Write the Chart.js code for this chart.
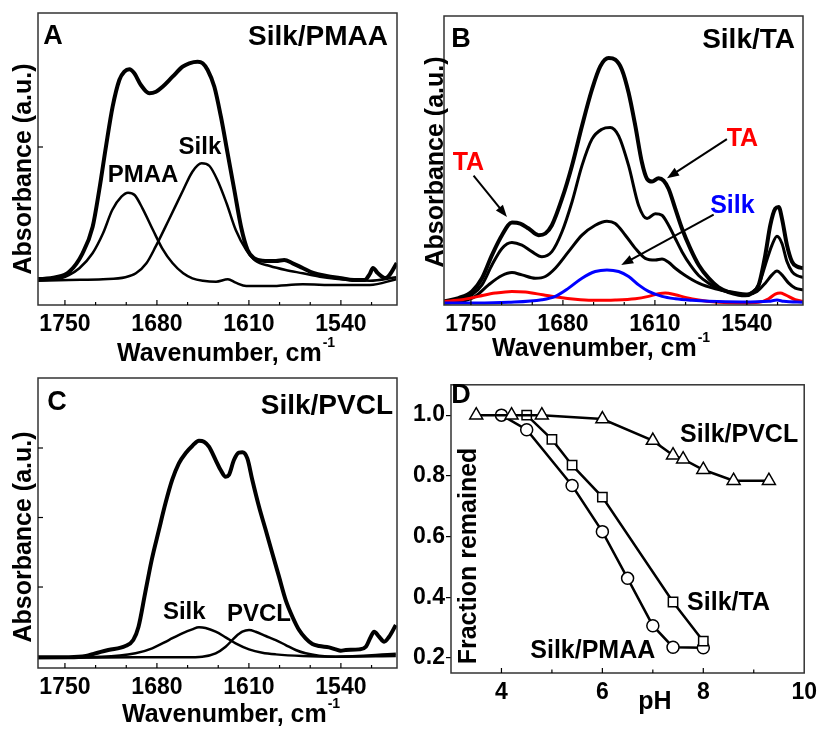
<!DOCTYPE html>
<html>
<head>
<meta charset="utf-8">
<script src="https://cdn.jsdelivr.net/npm/chart.js@4.4.1/dist/chart.umd.min.js"></script>
<style>
  body { margin: 0; background: #fff; }
  #fig { position: relative; width: 823px; height: 729px; overflow: hidden; }
  #fig canvas { position: absolute; }
</style>
</head>
<body>
<div id="fig">
  <canvas id="chartA" width="412" height="370" style="left:0;top:0"></canvas>
  <canvas id="chartB" width="411" height="370" style="left:412px;top:0"></canvas>
  <canvas id="chartC" width="412" height="359" style="left:0;top:370px"></canvas>
  <canvas id="chartD" width="411" height="359" style="left:412px;top:370px"></canvas>
</div>
<script>
// ---------- data ----------

// A : Silk/PMAA
const wnA_total = [1772.1, 1756.8, 1746.7, 1736.6, 1728.9, 1723.9, 1718.8, 1713.7, 1708.6, 1704.8, 1701.0, 1697.2, 1692.2, 1685.8, 1680.7, 1675.7, 1668.1, 1660.4, 1655.4, 1649.0, 1645.2, 1641.4, 1636.3, 1631.3, 1626.2, 1621.1, 1616.0, 1611.0, 1605.9, 1599.6, 1589.4, 1583.1, 1576.7, 1569.1, 1561.0, 1551.0, 1541.0, 1530.0, 1522.0, 1518.0, 1515.6, 1512.0, 1506.0, 1503.0, 1497.5];
const absA_total = [0.007, 0.027, 0.083, 0.267, 0.533, 0.9, 1.333, 1.733, 2.0, 2.083, 2.107, 2.067, 1.95, 1.867, 1.883, 1.933, 2.033, 2.133, 2.167, 2.183, 2.167, 2.1, 1.933, 1.633, 1.267, 0.9, 0.533, 0.3, 0.217, 0.193, 0.19, 0.2, 0.167, 0.12, 0.07, 0.04, 0.02, 0.0, 0.0, 0.06, 0.12, 0.07, 0.02, 0.05, 0.17];
const wnA_pmaa = [1770.5, 1757, 1747, 1739, 1729, 1721, 1714, 1707, 1702, 1697, 1691, 1683, 1676, 1668, 1660, 1653, 1645, 1635, 1626, 1620, 1612, 1594, 1569, 1544, 1518, 1498];
const absA_pmaa = [0, 0.007, 0.05, 0.117, 0.267, 0.467, 0.7, 0.833, 0.873, 0.85, 0.717, 0.5, 0.317, 0.167, 0.067, 0.017, -0.007, -0.017, 0.007, -0.027, -0.06, -0.06, -0.043, -0.05, -0.05, 0.007];
const wnA_silk = [1770.5, 1747, 1721, 1704, 1696, 1688, 1681, 1671, 1660, 1653, 1646, 1640, 1634, 1627, 1620, 1612, 1605, 1594, 1582, 1569, 1556, 1544, 1531, 1518, 1498];
const absA_silk = [-0.007, 0, 0.007, 0.027, 0.067, 0.167, 0.333, 0.6, 0.9, 1.083, 1.167, 1.14, 1.0, 0.767, 0.5, 0.3, 0.193, 0.14, 0.1, 0.067, 0.033, 0.013, 0, -0.007, 0.027];

// B : Silk/TA
const wnB_1 = [1770.5, 1759.4, 1749.2, 1741.6, 1734.0, 1726.4, 1718.8, 1712.5, 1706.1, 1698.5, 1693.4, 1688.4, 1680.7, 1673.1, 1665.5, 1657.9, 1651.6, 1645.2, 1640.2, 1635.1, 1630.0, 1624.9, 1619.9, 1616.0, 1612.2, 1607.2, 1603.4, 1599.6, 1594.5, 1589.4, 1583.1, 1576.7, 1569.1, 1561.5, 1553.9, 1546.3, 1541.2, 1536.1, 1531.0, 1526.0, 1522.2, 1518.4, 1515.8, 1513.3, 1509.5, 1505.7, 1501.9, 1496.8];
const absB_1 = [0.017, 0.05, 0.117, 0.25, 0.483, 0.683, 0.81, 0.8, 0.75, 0.683, 0.7, 0.783, 1.05, 1.383, 1.783, 2.15, 2.383, 2.467, 2.45, 2.35, 2.117, 1.783, 1.417, 1.25, 1.223, 1.257, 1.233, 1.15, 0.95, 0.75, 0.55, 0.383, 0.25, 0.157, 0.11, 0.083, 0.077, 0.1, 0.183, 0.483, 0.783, 0.95, 0.967, 0.85, 0.583, 0.417, 0.367, 0.35];
const wnB_2 = [1770.5, 1759.4, 1749.2, 1741.6, 1734.0, 1726.4, 1718.8, 1711.2, 1703.6, 1696.0, 1688.4, 1680.7, 1673.1, 1665.5, 1657.9, 1650.3, 1644.0, 1637.6, 1630.0, 1622.4, 1616.0, 1609.7, 1604.6, 1599.6, 1594.5, 1589.4, 1583.1, 1576.7, 1569.1, 1561.5, 1553.9, 1546.3, 1541.2, 1536.1, 1531.0, 1526.0, 1520.9, 1517.1, 1513.3, 1509.5, 1505.7, 1501.9, 1496.8];
const absB_2 = [0.01, 0.033, 0.083, 0.183, 0.383, 0.55, 0.61, 0.583, 0.517, 0.467, 0.517, 0.717, 1.017, 1.383, 1.65, 1.75, 1.767, 1.683, 1.383, 0.983, 0.85, 0.9, 0.883, 0.783, 0.65, 0.517, 0.383, 0.277, 0.2, 0.143, 0.11, 0.09, 0.083, 0.11, 0.183, 0.383, 0.583, 0.673, 0.6, 0.417, 0.317, 0.277, 0.257];
const wnB_3 = [1770.5, 1756.8, 1746.7, 1736.6, 1726.4, 1718.8, 1711.2, 1701.0, 1693.4, 1685.8, 1675.7, 1665.5, 1655.4, 1646.5, 1640.2, 1632.5, 1624.9, 1617.3, 1609.7, 1604.6, 1599.6, 1594.5, 1586.9, 1576.7, 1564.0, 1551.4, 1538.7, 1532.3, 1526.0, 1520.9, 1517.1, 1513.3, 1508.2, 1503.2, 1496.8];
const absB_3 = [0.0, 0.017, 0.067, 0.183, 0.277, 0.307, 0.283, 0.25, 0.267, 0.35, 0.517, 0.683, 0.783, 0.823, 0.8, 0.683, 0.55, 0.45, 0.433, 0.443, 0.41, 0.35, 0.277, 0.2, 0.143, 0.11, 0.09, 0.117, 0.2, 0.283, 0.323, 0.283, 0.2, 0.15, 0.133];
const wnB_silk = [1770.5, 1746.7, 1721.3, 1696.0, 1685.8, 1675.7, 1665.5, 1655.4, 1646.5, 1637.6, 1630.0, 1622.4, 1614.8, 1604.6, 1594.5, 1581.8, 1569.1, 1543.7, 1523.4, 1517.1, 1512.0, 1496.8];
const absB_silk = [0, 0, 0.007, 0.033, 0.067, 0.15, 0.25, 0.317, 0.333, 0.317, 0.267, 0.183, 0.117, 0.067, 0.043, 0.027, 0.017, 0.01, 0.017, 0.03, 0.017, 0.007];
const wnB_ta = [1770.5, 1756.8, 1744.2, 1731.5, 1718.8, 1708.6, 1695.4, 1683.3, 1670.6, 1657.9, 1640.2, 1624.9, 1614.8, 1607.2, 1602.1, 1594.5, 1586.9, 1576.7, 1564.0, 1543.7, 1531.0, 1523.4, 1518.4, 1514.6, 1510.7, 1503.2, 1496.8];
const absB_ta = [0.017, 0.033, 0.067, 0.1, 0.117, 0.11, 0.083, 0.057, 0.037, 0.027, 0.03, 0.043, 0.067, 0.093, 0.1, 0.083, 0.057, 0.03, 0.01, 0, 0.007, 0.043, 0.09, 0.1, 0.083, 0.033, 0.017];

// C : Silk/PVCL
const wnC_total = [1771, 1747, 1734, 1727, 1717, 1704, 1698, 1694, 1689, 1684, 1678.5, 1673.5, 1668.4, 1663.3, 1658.2, 1653.1, 1648, 1644.2, 1640.4, 1635.3, 1631.5, 1627.7, 1625.2, 1621.4, 1617.6, 1615, 1611.2, 1607.4, 1602.3, 1597.2, 1592.2, 1587.1, 1582, 1576.9, 1571.8, 1566.8, 1561.7, 1556.6, 1549, 1543.9, 1540.1, 1536.3, 1526.1, 1521, 1517.2, 1514.7, 1510.9, 1507.1, 1503.3, 1498.2];
const absC_total = [-0.01, -0.01, 0.007, 0.046, 0.094, 0.151, 0.237, 0.429, 0.909, 1.388, 1.82, 2.204, 2.54, 2.78, 2.924, 3.029, 3.105, 3.091, 3.019, 2.827, 2.683, 2.587, 2.612, 2.827, 2.933, 2.938, 2.851, 2.54, 2.155, 1.82, 1.485, 1.149, 0.813, 0.573, 0.381, 0.261, 0.18, 0.151, 0.132, 0.103, 0.084, 0.094, 0.103, 0.141, 0.285, 0.357, 0.285, 0.213, 0.285, 0.453];
const wnC_silk = [1771, 1722, 1696.3, 1683.6, 1670.9, 1660.7, 1653.1, 1648, 1643, 1635.3, 1627.7, 1620.1, 1609.9, 1599.8, 1589.6, 1569.3, 1543.9, 1498.2];
const absC_silk = [-0.01, -0.002, 0.046, 0.118, 0.237, 0.333, 0.391, 0.42, 0.41, 0.357, 0.276, 0.19, 0.103, 0.055, 0.031, 0.007, -0.002, 0.007];
const wnC_pvcl = [1771, 1696.3, 1658.2, 1645.5, 1635.3, 1627.7, 1620.1, 1615, 1609.9, 1604.9, 1597.2, 1589.6, 1582, 1574.4, 1566.8, 1556.6, 1543.9, 1498.2];
const absC_pvcl = [-0.02, -0.01, -0.01, -0.002, 0.046, 0.141, 0.285, 0.357, 0.381, 0.357, 0.295, 0.237, 0.165, 0.094, 0.046, 0.012, -0.002, 0.04];

// D : fraction remained vs pH
const pvclPH = [3.5, 4.2, 4.8, 6.0, 7.0, 7.4, 7.6, 8.0, 8.6, 9.3];
const pvclFrac = [1.0, 1.0, 1.0, 0.987, 0.916, 0.868, 0.855, 0.82, 0.784, 0.784];
const taPH = [4.5, 5.0, 5.4, 6.0, 7.4, 8.0];
const taFrac = [1.0, 0.92, 0.835, 0.73, 0.384, 0.255];
const pmaaPH = [4.0, 4.5, 5.4, 6.0, 6.5, 7.0, 7.4, 8.0];
const pmaaFrac = [1.0, 0.952, 0.768, 0.616, 0.462, 0.306, 0.235, 0.233];

// tick labels
const wnTicks = [1750, 1680, 1610, 1540];
const phTicks = [4, 6, 8, 10];
const fracTicks = [0.2, 0.4, 0.6, 0.8, 1.0];

// ---------- helpers ----------
const FONT = '"Liberation Sans", Arial, Helvetica, sans-serif';
const WN_MIN = 1497.3, WN_MAX = 1770.5;

function pts(xs, ys) {
    return xs.map((x, i) => ({ x: x, y: ys[i] }));
}

// text centred on the cap height
function txt(ctx, str, x, y, size, align, color, rotate) {
    ctx.save();
    ctx.font = 'bold ' + size + 'px ' + FONT;
    ctx.fillStyle = color || '#000';
    ctx.textAlign = align || 'center';
    ctx.textBaseline = 'alphabetic';
    ctx.translate(x, y);
    if (rotate) ctx.rotate(-Math.PI / 2);
    ctx.fillText(str, 0, size * 0.36);
    ctx.restore();
}

function arrow(ctx, x1, y1, x2, y2) {
    const a = Math.atan2(y2 - y1, x2 - x1), L = 12, W = 4.5;
    const c = Math.cos(a), s = Math.sin(a);
    ctx.save();
    ctx.strokeStyle = '#000';
    ctx.fillStyle = '#000';
    ctx.lineWidth = 2;
    ctx.beginPath();
    ctx.moveTo(x1, y1);
    ctx.lineTo(x2 - L * 0.8 * c, y2 - L * 0.8 * s);
    ctx.stroke();
    ctx.beginPath();
    ctx.moveTo(x2, y2);
    ctx.lineTo(x2 - L * c + W * s, y2 - L * s - W * c);
    ctx.lineTo(x2 - L * c - W * s, y2 - L * s + W * c);
    ctx.closePath();
    ctx.fill();
    ctx.restore();
}

// frame, inward ticks, titles, labels and arrows
const decor = {
    id: 'decor',
    afterDatasetsDraw(chart, args, o) {
        const ctx = chart.ctx, a = chart.chartArea;
        const xs = chart.scales.x, ys = chart.scales.y;
        ctx.save();
        ctx.strokeStyle = '#333';
        ctx.lineWidth = 1.5;
        ctx.strokeRect(a.left, a.top, a.right - a.left, a.bottom - a.top);
        ctx.strokeStyle = '#000';
        ctx.lineWidth = 1.2;
        (o.xTicks || []).forEach(t => {
            const px = xs.getPixelForValue(t[0]);
            ctx.beginPath();
            ctx.moveTo(px, a.bottom);
            ctx.lineTo(px, a.bottom - t[1]);
            ctx.stroke();
        });
        (o.yTicks || []).forEach(v => {
            const py = ys.getPixelForValue(v);
            ctx.beginPath();
            ctx.moveTo(a.left, py);
            ctx.lineTo(a.left + 5, py);
            ctx.stroke();
        });
        ctx.restore();

        if (o.letter) txt(ctx, o.letter[0], o.letter[1], o.letter[2], 27, 'center');
        if (o.title) txt(ctx, o.title[0], o.title[1], o.title[2], 28, 'right');
        if (o.yTitle) txt(ctx, o.yTitle[0], o.yTitle[1], o.yTitle[2], 25, 'center', '#000', true);
        if (o.xTitle) {
            const t = o.xTitle;
            txt(ctx, t[0], t[1], t[2], 25, 'left');
            if (t[3]) {
                ctx.save();
                ctx.font = 'bold 25px ' + FONT;
                const w = ctx.measureText(t[0]).width;
                ctx.restore();
                txt(ctx, t[3], t[1] + w + 1, t[2] - 10, 14, 'left');
            }
        }
        (o.arrows || []).forEach(r => {
            arrow(ctx, xs.getPixelForValue(r[0]), ys.getPixelForValue(r[1]),
                xs.getPixelForValue(r[2]), ys.getPixelForValue(r[3]));
        });
        (o.labels || []).forEach(l => {
            txt(ctx, l[0], xs.getPixelForValue(l[1]), ys.getPixelForValue(l[2]), l[3], 'center', l[4]);
        });
    }
};

// minor + major inward ticks on the wavenumber axis (only inside the axis range)
const wnInward = [];
for (let v = 1750 + 70 / 3; v > 1490; v -= 70 / 3) {
    if (v < WN_MIN || v > WN_MAX) continue;
    const major = wnTicks.some(t => Math.abs(t - v) < 0.01);
    wnInward.push([v, major ? 5 : 3]);
}

function line(data, color, width) {
    return {
        data: data,
        borderColor: color,
        borderWidth: width,
        pointRadius: 0,
        fill: false,
        cubicInterpolationMode: 'monotone'
    };
}

function spectrumOptions(pad, xHeight, yMin, yMax, dec) {
    return {
        responsive: false,
        animation: false,
        devicePixelRatio: 1,
        layout: { padding: pad },
        plugins: { legend: { display: false }, tooltip: { enabled: false }, decor: dec },
        scales: {
            x: {
                type: 'linear',
                reverse: true,
                min: WN_MIN,
                max: WN_MAX,
                grid: { display: false, drawTicks: false },
                border: { display: false },
                afterBuildTicks: s => { s.ticks = wnTicks.map(v => ({ value: v })); },
                afterFit: s => { s.height = xHeight; },
                ticks: {
                    padding: 6,
                    color: '#000',
                    maxRotation: 0,
                    font: { family: FONT, size: 23, weight: 'bold' },
                    callback: v => String(v)
                }
            },
            y: {
                display: false,
                min: yMin,
                max: yMax
            }
        }
    };
}

// ---------- A ----------
new Chart(document.getElementById('chartA'), {
    type: 'line',
    data: {
        datasets: [
            line(pts(wnA_pmaa, absA_pmaa), '#000', 2.5),
            line(pts(wnA_silk, absA_silk), '#000', 2.5),
            line(pts(wnA_total, absA_total), '#000', 4)
        ]
    },
    options: spectrumOptions({ left: 38, top: 13, right: 15, bottom: 0 }, 65, -0.25, 2.67, {
        xTicks: wnInward,
        yTicks: [1.33],
        letter: ['A', 53, 34],
        title: ['Silk/PMAA', 388, 35],
        yTitle: ['Absorbance (a.u.)', 22, 169],
        xTitle: ['Wavenumber, cm', 117, 352, '-1'],
        labels: [['PMAA', 1690.6, 1.07, 24], ['Silk', 1647.3, 1.35, 24]]
    }),
    plugins: [decor]
});

// ---------- B ----------
new Chart(document.getElementById('chartB'), {
    type: 'line',
    data: {
        datasets: [
            line(pts(wnB_silk, absB_silk), 'rgb(0,0,255)', 3),
            line(pts(wnB_ta, absB_ta), 'rgb(255,0,0)', 3),
            line(pts(wnB_3, absB_3), '#000', 3),
            line(pts(wnB_2, absB_2), '#000', 3),
            line(pts(wnB_1, absB_1), '#000', 4)
        ]
    },
    options: spectrumOptions({ left: 32, top: 16, right: 20, bottom: 0 }, 65, -0.02, 2.89, {
        xTicks: wnInward,
        letter: ['B', 49, 37],
        title: ['Silk/TA', 383, 38],
        yTitle: ['Absorbance (a.u.)', 22, 162],
        xTitle: ['Wavenumber, cm', 80, 347, '-1'],
        arrows: [
            [1748, 1.283, 1722.6, 0.867],
            [1555.2, 1.65, 1600.8, 1.257],
            [1565.3, 0.89, 1635.6, 0.383]
        ],
        labels: [
            ['TA', 1751.9, 1.425, 25, 'rgb(255,0,0)'],
            ['TA', 1543.4, 1.675, 25, 'rgb(255,0,0)'],
            ['Silk', 1551, 1.0, 25, 'rgb(0,0,255)']
        ]
    }),
    plugins: [decor]
});

// ---------- C ----------
new Chart(document.getElementById('chartC'), {
    type: 'line',
    data: {
        datasets: [
            line(pts(wnC_silk, absC_silk), '#000', 2.5),
            line(pts(wnC_pvcl, absC_pvcl), '#000', 2.5),
            line(pts(wnC_total, absC_total), '#000', 4)
        ]
    },
    options: spectrumOptions({ left: 38, top: 8, right: 15, bottom: 0 }, 61, -0.165, 4.007, {
        xTicks: wnInward,
        yTicks: [1, 2, 3],
        letter: ['C', 57, 30],
        title: ['Silk/PVCL', 393, 34],
        yTitle: ['Absorbance (a.u.)', 22, 167],
        xTitle: ['Wavenumber, cm', 122, 343, '-1'],
        labels: [['Silk', 1659.2, 0.669, 24], ['PVCL', 1602.3, 0.633, 24]]
    }),
    plugins: [decor]
});

// ---------- D ----------
function series(data, style, radius) {
    return {
        data: data,
        borderColor: '#000',
        borderWidth: 2.5,
        pointStyle: style,
        pointRadius: radius,
        pointBorderWidth: 1.5,
        pointBorderColor: '#000',
        pointBackgroundColor: '#fff',
        fill: false,
        tension: 0
    };
}

new Chart(document.getElementById('chartD'), {
    type: 'line',
    data: {
        datasets: [
            series(pts(pvclPH, pvclFrac), 'triangle', 7.5),
            series(pts(taPH, taFrac), 'rect', 6.6),
            series(pts(pmaaPH, pmaaFrac), 'circle', 6)
        ]
    },
    options: {
        responsive: false,
        animation: false,
        devicePixelRatio: 1,
        layout: { padding: { left: 0, top: 10, right: 15, bottom: 0 } },
        plugins: {
            legend: { display: false },
            tooltip: { enabled: false },
            decor: {
                xTicks: [[4, 5], [5, 3.5], [6, 5], [7, 3.5], [8, 5], [9, 3.5]],
                letter: ['D', 49, 23],
                yTitle: ['Fraction remained', 55, 186],
                labels: [
                    ['Silk/PVCL', 8.71, 0.942, 25],
                    ['Silk/TA', 8.5, 0.388, 25],
                    ['Silk/PMAA', 5.81, 0.229, 25]
                ]
            }
        },
        scales: {
            x: {
                type: 'linear',
                min: 3,
                max: 10,
                grid: { display: false, drawTicks: false },
                border: { display: false },
                afterBuildTicks: s => { s.ticks = phTicks.map(v => ({ value: v })); },
                afterFit: s => { s.height = 56; },
                ticks: {
                    padding: 6,
                    color: '#000',
                    maxRotation: 0,
                    font: { family: FONT, size: 23, weight: 'bold' },
                    callback: v => String(v)
                }
            },
            y: {
                min: 0.15,
                max: 1.1,
                grid: { drawOnChartArea: false, drawTicks: true, tickLength: 5, color: '#000', lineWidth: 1.2 },
                border: { display: false },
                afterBuildTicks: s => { s.ticks = fracTicks.map(v => ({ value: v })); },
                afterFit: s => { s.width = 39; },
                ticks: {
                    padding: 1,
                    color: '#000',
                    font: { family: FONT, size: 23, weight: 'bold' },
                    callback: v => v.toFixed(1)
                }
            }
        }
    },
    plugins: [{
        id: 'phTitle',
        afterDraw(chart) {
            txt(chart.ctx, 'pH', 243, 330, 25, 'center');
        }
    }, decor]
});
</script>
</body>
</html>
